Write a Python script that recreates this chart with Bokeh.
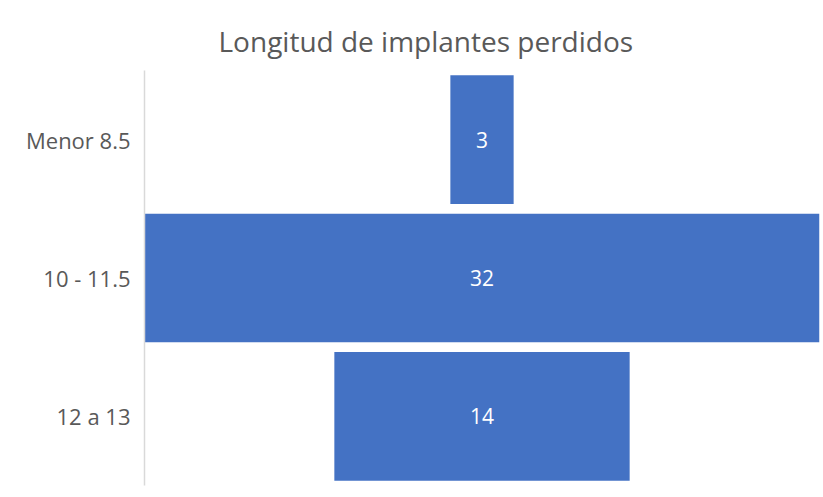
from bokeh.plotting import figure
from bokeh.models import FactorRange, ColumnDataSource, Title
from bokeh.core.properties import value
from bokeh.embed import file_html
from bokeh.resources import INLINE

categories = ["Menor 8.5", "10 - 11.5", "12 a 13"]
values = [3, 32, 14]
title_text = "Longitud de implantes perdidos"

FONT = "Open Sans"
BLUE = "#4472C4"
GRAY = "#595959"

order = list(reversed(categories))
src = ColumnDataSource(dict(
    cat=categories,
    left=[-v / 2 for v in values],
    right=[v / 2 for v in values],
    label=[str(v) for v in values],
    mid=[0] * len(values),
))

vmax = max(values)
p = figure(width=823, height=497, output_backend="svg", toolbar_location=None,
           y_range=FactorRange(factors=order, range_padding=0),
           x_range=(-vmax / 2, vmax / 2),
           min_border_left=144, min_border_right=4,
           min_border_top=70, min_border_bottom=12)
p.title = None
t = Title(text=title_text, align="left", offset=74, text_font=FONT,
          text_font_size="28px", text_font_style="normal", text_color=GRAY,
          standoff=22)
p.add_layout(t, "above")

p.hbar(y="cat", left="left", right="right", height=0.93, source=src,
       fill_color=BLUE, line_color=None)
p.text(x="mid", y="cat", text="label", source=src, text_align="center",
       text_baseline="middle", text_color="white",
       text_font=value(FONT), text_font_size="21px")

p.xaxis.visible = False
p.xgrid.visible = False
p.ygrid.visible = False
p.outline_line_color = None
ya = p.yaxis[0]
ya.axis_line_color = "#d9d9d9"
ya.axis_line_width = 1.5
ya.major_tick_line_color = None
ya.minor_tick_line_color = None
ya.major_label_text_font = FONT
ya.major_label_text_font_size = "22px"
ya.major_label_text_color = GRAY
ya.major_label_standoff = 8

open("out.html", "w").write(file_html(p, INLINE))
